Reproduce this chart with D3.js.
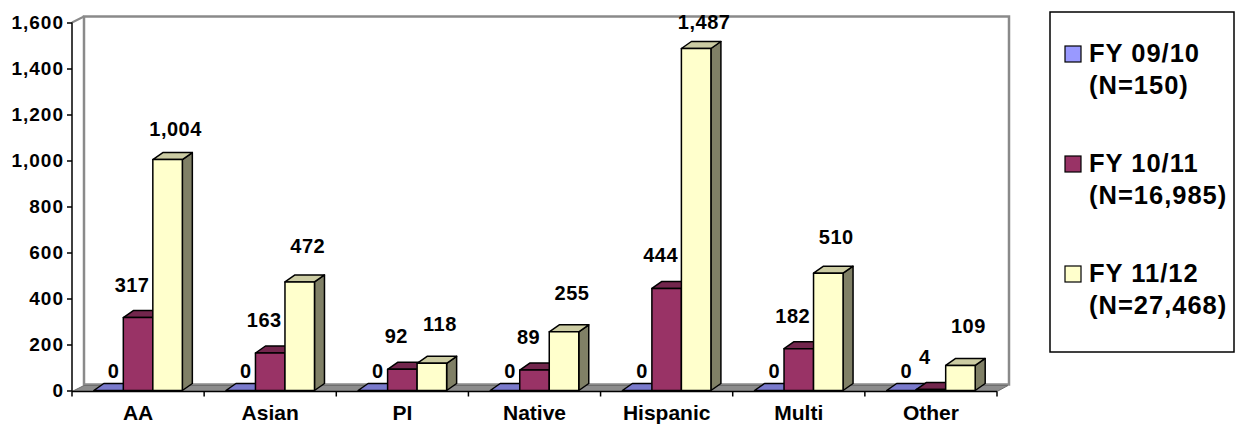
<!DOCTYPE html>
<html><head><meta charset="utf-8">
<script src="https://cdn.jsdelivr.net/npm/d3@7"></script>
<style>
html,body{margin:0;padding:0;background:#fff;}
svg{display:block;font-family:"Liberation Sans",Arial,sans-serif;font-weight:bold;}
</style></head>
<body>
<svg id="chart" width="1236" height="424"></svg>
<script>
const categories = ["AA","Asian","PI","Native","Hispanic","Multi","Other"];
const fy0910 = [0,0,0,0,0,0,0];
const fy1011 = [317,163,92,89,444,182,4];
const fy1112 = [1004,472,118,255,1487,510,109];
const seriesNames = ["FY 09/10","FY 10/11","FY 11/12"];
const seriesN = ["(N=150)","(N=16,985)","(N=27,468)"];
const yTicks = [0,200,400,600,800,1000,1200,1400,1600];

const seriesValues = [fy0910, fy1011, fy1112];
const front = ["#9999FF","#993366","#FFFFCC"];
const topC  = ["#7A7ACC","#73264D","#CCCCA3"];
const sideC = ["#5C5C99","#4C1933","#808066"];
const labelDx = [5,-6,8];

const svg = d3.select("#chart");
const x0 = 72, x1 = 997, yBase = 390.5, yTop = 22.5;
const x = d3.scaleBand().domain(categories).range([x0, x1]).padding(0);
const step = x.bandwidth();
const xs = d3.scaleBand().domain(seriesNames).range([0.165*step, 0.835*step]).padding(0);
const y = d3.scaleLinear().domain([0,1600]).range([yBase, yTop]);

// walls
const wdx = 12, wdy = -6;
const wallG = svg.append("g");
wallG.append("rect").attr("x", x0+wdx).attr("y", yTop+wdy).attr("width", x1-x0).attr("height", yBase-yTop)
  .attr("fill","#fff").attr("stroke","#8a8a8a").attr("stroke-width",2.5);
wallG.append("line").attr("x1",x0).attr("y1",yTop).attr("x2",x0+wdx).attr("y2",yTop+wdy)
  .attr("stroke","#8a8a8a").attr("stroke-width",2);
wallG.append("path")
  .attr("d", `M${x0},${yBase+1} L${x1},${yBase+1} L${x1+wdx-1},${yBase+1+wdy} L${x0+wdx},${yBase+1+wdy} Z`)
  .attr("fill","#8c8c8c").attr("stroke","#6e6e6e").attr("stroke-width",1);

// bars
const bdx = 10, bdy = -7;
const barsG = svg.append("g");
categories.forEach((c, ci) => {
  seriesNames.forEach((s, si) => {
    const v = seriesValues[si][ci];
    const l = x(c) + xs(s), r = l + xs.bandwidth();
    const t = y(v), b = y(0);
    const g = barsG.append("g").attr("stroke","#000").attr("stroke-width",1.5).attr("stroke-linejoin","round");
    g.append("path").attr("d", `M${r},${b} L${r+bdx},${b+bdy} L${r+bdx},${t+bdy} L${r},${t} Z`).attr("fill", sideC[si]);
    g.append("path").attr("d", `M${l},${t} L${l+bdx},${t+bdy} L${r+bdx},${t+bdy} L${r},${t} Z`).attr("fill", topC[si]);
    if (b - t > 0.5) g.append("rect").attr("x", l).attr("y", t).attr("width", r-l).attr("height", b-t).attr("fill", front[si]);
  });
});

// x axis line and ticks
const axG = svg.append("g");
axG.append("line").attr("x1",x0).attr("x2",x1).attr("y1",yBase+1).attr("y2",yBase+1).attr("stroke","#000").attr("stroke-width",1.5);
const bounds = categories.map(c => x(c)).concat([x(categories[categories.length-1]) + step]);
axG.selectAll("line.tk").data(bounds).join("line").attr("class","tk")
  .attr("x1",d=>d).attr("x2",d=>d).attr("y1",yBase+1).attr("y2",yBase+6).attr("stroke","#000").attr("stroke-width",1.5);
axG.selectAll("text.xl").data(categories).join("text").attr("class","xl")
  .attr("x", d => x(d) + step/2).attr("y", 420).attr("text-anchor","middle")
  .attr("font-size","21px").attr("fill","#000").text(d => d);

// y axis
const yAxis = d3.axisLeft(y).tickValues(yTicks).tickFormat(d3.format(",")).tickSize(5).tickSizeOuter(0).tickPadding(4);
const yG = svg.append("g").attr("transform", `translate(${x0},0)`).call(yAxis);
yG.select(".domain").attr("stroke","#000").attr("stroke-width",1.5).attr("d", `M0,${yTop}V${yBase+1}`);
yG.selectAll(".tick line").attr("stroke","#000").attr("stroke-width",1.5);
yG.selectAll(".tick text").attr("font-size","19px").attr("font-family","Liberation Sans, Arial, sans-serif")
  .attr("font-weight","bold").attr("fill","#000").attr("letter-spacing","1px").attr("x",-8);

// data labels
const lblG = svg.append("g");
categories.forEach((c, ci) => {
  seriesNames.forEach((s, si) => {
    const v = seriesValues[si][ci];
    const l = x(c) + xs(s);
    const cx = l + xs.bandwidth()/2 + labelDx[si];
    const off = si === 0 ? 13 : (si === 1 ? 26 : 34 - 16*(v/1600));
    lblG.append("text").attr("x", cx).attr("y", y(v) - off).attr("text-anchor","middle")
      .attr("font-size","20px").attr("letter-spacing","0.5px").attr("fill","#000").text(d3.format(",")(v));
  });
});

// legend
const lg = svg.append("g");
lg.append("rect").attr("x",1050).attr("y",12).attr("width",184).attr("height",340)
  .attr("fill","#fff").attr("stroke","#000").attr("stroke-width",1.5);
seriesNames.forEach((s, i) => {
  const base = 62 + i*110;
  lg.append("rect").attr("x",1065).attr("y",base-16).attr("width",16).attr("height",16)
    .attr("fill",front[i]).attr("stroke","#000").attr("stroke-width",1.2);
  lg.append("text").attr("x",1089).attr("y",base).attr("font-size","25.5px").attr("letter-spacing","1px").attr("fill","#000").text(s);
  lg.append("text").attr("x",1089).attr("y",base+32).attr("font-size","25.5px").attr("letter-spacing","1px").attr("fill","#000").text(seriesN[i]);
});
</script>
</body></html>
